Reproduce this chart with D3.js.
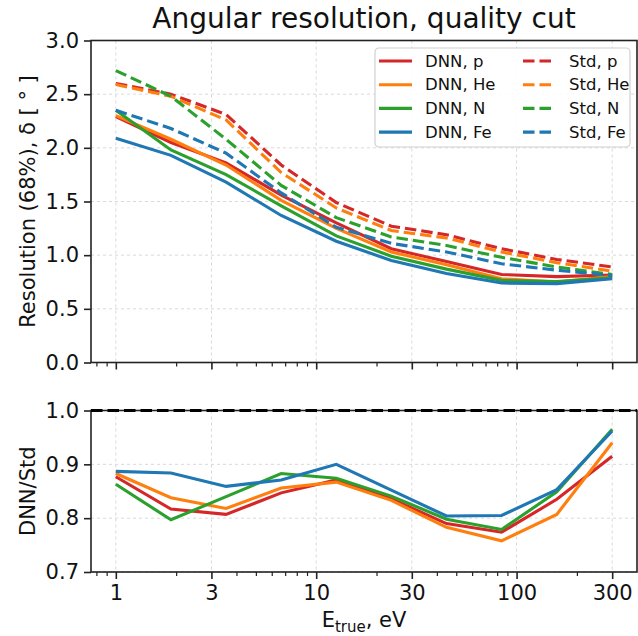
<!DOCTYPE html>
<html>
<head>
<meta charset="utf-8">
<script src="https://cdn.jsdelivr.net/npm/d3@7"></script>
<style>
  body { margin: 0; background: #fff; }
  svg text { font-family: "DejaVu Sans", sans-serif; fill: #111; }
</style>
</head>
<body>
<div id="chart"></div>
<script>
// energy bin centres (eV)
const energies = [1, 1.884, 3.55, 6.69, 12.6, 23.7, 44.7, 84.2, 158.7, 300];

// 68% angular resolution, degrees
const dnnP  = [2.29, 2.05, 1.86, 1.56, 1.30, 1.06, 0.94, 0.82, 0.80, 0.815];
const dnnHe = [2.30, 2.08, 1.84, 1.51, 1.25, 1.03, 0.91, 0.78, 0.75, 0.80];
const dnnN  = [2.35, 1.98, 1.75, 1.46, 1.18, 0.99, 0.87, 0.765, 0.755, 0.79];
const dnnFe = [2.09, 1.93, 1.68, 1.37, 1.13, 0.95, 0.83, 0.74, 0.735, 0.78];

const stdP  = [2.60, 2.50, 2.31, 1.84, 1.49, 1.27, 1.19, 1.06, 0.96, 0.89];
const stdHe = [2.59, 2.48, 2.26, 1.77, 1.44, 1.23, 1.16, 1.03, 0.93, 0.85];
const stdN  = [2.72, 2.48, 2.08, 1.65, 1.35, 1.17, 1.09, 0.98, 0.89, 0.82];
const stdFe = [2.35, 2.18, 1.95, 1.58, 1.26, 1.11, 1.03, 0.92, 0.86, 0.81];

// DNN / Std ratio
const ratioP  = [0.877, 0.817, 0.807, 0.847, 0.871, 0.836, 0.790, 0.774, 0.835, 0.915];
const ratioHe = [0.883, 0.838, 0.818, 0.856, 0.867, 0.833, 0.783, 0.758, 0.807, 0.940];
const ratioN  = [0.863, 0.797, 0.840, 0.883, 0.874, 0.841, 0.798, 0.779, 0.849, 0.965];
const ratioFe = [0.887, 0.884, 0.859, 0.871, 0.900, 0.852, 0.804, 0.805, 0.853, 0.962];

const xTicks = [1, 3, 10, 30, 100, 300];
const resTicks = [0, 0.5, 1.0, 1.5, 2.0, 2.5, 3.0];
const ratioTicks = [0.7, 0.8, 0.9, 1.0];

const colors = { p: "#d62728", He: "#ff7f0e", N: "#2ca02c", Fe: "#1f77b4" };

const series = [
    { name: "DNN, p",  vals: dnnP,  color: colors.p,  dashed: false },
    { name: "DNN, He", vals: dnnHe, color: colors.He, dashed: false },
    { name: "DNN, N",  vals: dnnN,  color: colors.N,  dashed: false },
    { name: "DNN, Fe", vals: dnnFe, color: colors.Fe, dashed: false },
    { name: "Std, p",  vals: stdP,  color: colors.p,  dashed: true },
    { name: "Std, He", vals: stdHe, color: colors.He, dashed: true },
    { name: "Std, N",  vals: stdN,  color: colors.N,  dashed: true },
    { name: "Std, Fe", vals: stdFe, color: colors.Fe, dashed: true }
];
const ratios = [
    { vals: ratioP,  color: colors.p },
    { vals: ratioHe, color: colors.He },
    { vals: ratioN,  color: colors.N },
    { vals: ratioFe, color: colors.Fe }
];

const W = 638, H = 636;
const left = 91, right = 637;
const top1 = 40.5, bot1 = 362.5;
const top2 = 410.5, bot2 = 572;
const DASH = "11.5,5";
const LW = 3.1;

const svg = d3.select("#chart").append("svg")
    .attr("width", W)
    .attr("height", H);

// log x scale with 5% padding in log space like matplotlib
const lmin = Math.log10(energies[0]), lmax = Math.log10(energies[energies.length - 1]);
const pad = (lmax - lmin) * 0.05;
const x = d3.scaleLog()
    .domain([Math.pow(10, lmin - pad), Math.pow(10, lmax + pad)])
    .range([left, right]);
const yRes = d3.scaleLinear().domain([0, 3]).range([bot1, top1]);
const yRat = d3.scaleLinear().domain([0.7, 1.0]).range([bot2, top2]);

// minor ticks at k*10^d
const minorTicks = [];
for (let d = -1; d <= 2; d++) {
    for (let k = 1; k <= 9; k++) {
        const v = k * Math.pow(10, d);
        if (v >= x.domain()[0] && v <= x.domain()[1] && !xTicks.includes(v)) minorTicks.push(v);
    }
}

function drawPanel(y, yTicks, top, bot, showXLabels, fmt) {
    const g = svg.append("g");

    // grid
    g.append("g").selectAll("line.vg").data(xTicks).join("line")
        .attr("x1", d => x(d)).attr("x2", d => x(d))
        .attr("y1", top).attr("y2", bot)
        .attr("stroke", "#d9d9d9").attr("stroke-width", 1)
        .attr("stroke-dasharray", "3,3");
    g.append("g").selectAll("line.hg").data(yTicks).join("line")
        .attr("x1", left).attr("x2", right)
        .attr("y1", d => y(d)).attr("y2", d => y(d))
        .attr("stroke", "#d9d9d9").attr("stroke-width", 1)
        .attr("stroke-dasharray", "3,3");

    // y axis
    const yAxis = d3.axisLeft(y).tickValues(yTicks).tickFormat(fmt)
        .tickSize(7).tickPadding(5);
    const ya = g.append("g").attr("transform", `translate(${left},0)`).call(yAxis);
    ya.select(".domain").remove();
    ya.selectAll("line").attr("stroke", "#222").attr("stroke-width", 1.6);
    ya.selectAll("text").style("font-size", "21px").attr("fill", "#111");

    // x axis major + minor
    const xAxis = d3.axisBottom(x).tickValues(xTicks)
        .tickFormat(showXLabels ? d3.format("d") : "")
        .tickSize(7).tickPadding(6);
    const xa = g.append("g").attr("transform", `translate(0,${bot})`).call(xAxis);
    xa.select(".domain").remove();
    xa.selectAll("line").attr("stroke", "#222").attr("stroke-width", 1.6);
    xa.selectAll("text").style("font-size", "21px").attr("fill", "#111");

    const xMinor = d3.axisBottom(x).tickValues(minorTicks).tickFormat("").tickSize(4);
    const xm = g.append("g").attr("transform", `translate(0,${bot})`).call(xMinor);
    xm.select(".domain").remove();
    xm.selectAll("line").attr("stroke", "#222").attr("stroke-width", 1.2);

    return g;
}

function frame(top, bot) {
    svg.append("rect")
        .attr("x", left).attr("y", top)
        .attr("width", right - left).attr("height", bot - top)
        .attr("fill", "none").attr("stroke", "#222").attr("stroke-width", 1.6);
}

// ---- top panel
drawPanel(yRes, resTicks, top1, bot1, false, d3.format(".1f"));

const line1 = d3.line()
    .x((d, i) => x(energies[i]))
    .y(d => yRes(d));

svg.append("g").selectAll("path").data(series).join("path")
    .attr("d", d => line1(d.vals))
    .attr("fill", "none")
    .attr("stroke", d => d.color)
    .attr("stroke-width", LW)
    .attr("stroke-dasharray", d => d.dashed ? DASH : null);

frame(top1, bot1);

// title
svg.append("text")
    .attr("x", (left + right) / 2)
    .attr("y", 28)
    .attr("text-anchor", "middle")
    .style("font-size", "28px")
    .text("Angular resolution, quality cut");

// y label
svg.append("text")
    .attr("transform", `translate(28,${(top1 + bot1) / 2}) rotate(-90)`)
    .attr("text-anchor", "middle")
    .attr("dy", "0.35em")
    .style("font-size", "21px")
    .text("Resolution (68%), δ [ ° ]");

// legend
const legend = svg.append("g").attr("transform", "translate(375,48)");
legend.append("rect")
    .attr("width", 255).attr("height", 99)
    .attr("rx", 4)
    .attr("fill", "white").attr("fill-opacity", 0.85)
    .attr("stroke", "#d0d0d0").attr("stroke-width", 1.2);

series.forEach((s, i) => {
    const col = s.dashed ? 1 : 0;
    const row = i % 4;
    const lg = legend.append("g")
        .attr("transform", `translate(${col === 0 ? 4 : 148},${13 + row * 23.7})`);
    lg.append("line")
        .attr("x1", 0).attr("x2", 33)
        .attr("y1", 0).attr("y2", 0)
        .attr("stroke", s.color).attr("stroke-width", LW)
        .attr("stroke-dasharray", s.dashed ? DASH : null);
    lg.append("text")
        .attr("x", 46).attr("y", 0)
        .attr("dy", "0.35em")
        .style("font-size", "16.5px")
        .text(s.name);
});

// ---- bottom panel
drawPanel(yRat, ratioTicks, top2, bot2, true, d3.format(".1f"));

const line2 = d3.line()
    .x((d, i) => x(energies[i]))
    .y(d => yRat(d));

svg.append("g").selectAll("path").data(ratios).join("path")
    .attr("d", d => line2(d.vals))
    .attr("fill", "none")
    .attr("stroke", d => d.color)
    .attr("stroke-width", LW);

frame(top2, bot2);

// reference line at 1
svg.append("line")
    .attr("x1", left).attr("x2", right)
    .attr("y1", yRat(1)).attr("y2", yRat(1))
    .attr("stroke", "#000").attr("stroke-width", 3)
    .attr("stroke-dasharray", DASH);

svg.append("text")
    .attr("transform", `translate(28,${(top2 + bot2) / 2}) rotate(-90)`)
    .attr("text-anchor", "middle")
    .attr("dy", "0.35em")
    .style("font-size", "21px")
    .text("DNN/Std");

// x label with subscript
const xl = svg.append("text")
    .attr("x", (left + right) / 2)
    .attr("y", 627)
    .attr("text-anchor", "middle")
    .style("font-size", "21px");
xl.append("tspan").text("E");
xl.append("tspan").attr("dy", 5).style("font-size", "15px").text("true");
xl.append("tspan").attr("dy", -5).text(", eV");
</script>
</body>
</html>
